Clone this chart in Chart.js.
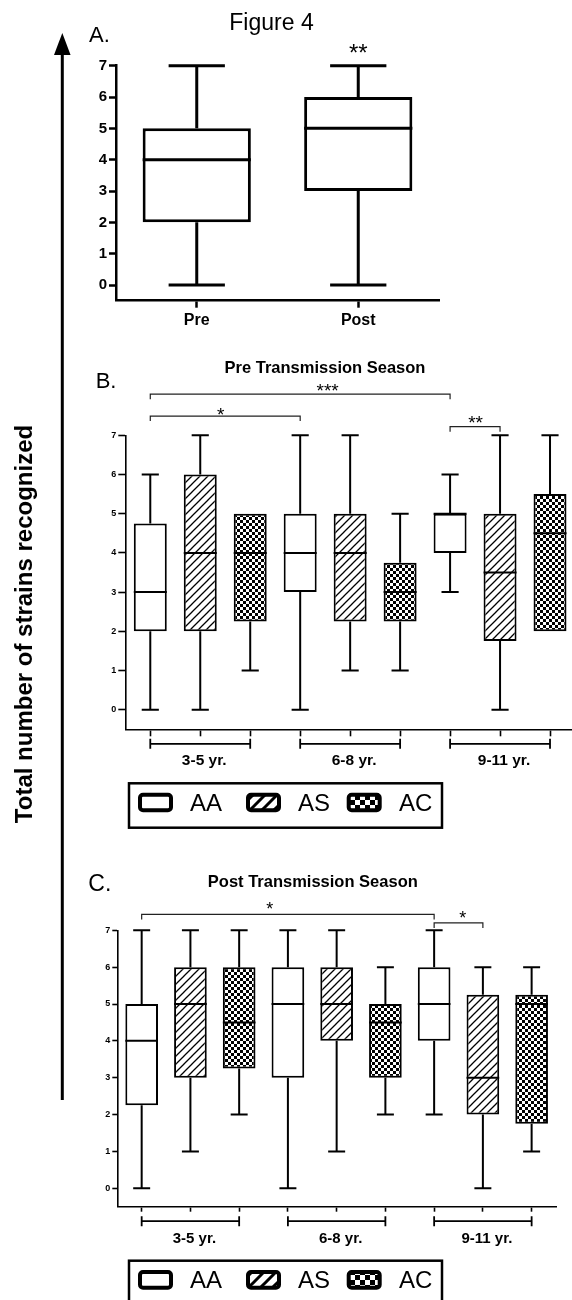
<!DOCTYPE html>
<html>
<head>
<meta charset="utf-8">
<title>Figure 4</title>
<script src="https://cdn.jsdelivr.net/npm/chart.js@4.4.0/dist/chart.umd.min.js"></script>
<style>
    html, body { margin: 0; padding: 0; background: #fff; overflow: hidden; }
    body { width: 572px; height: 1300px; position: relative; font-family: Arial, "Liberation Sans", sans-serif; color: #000; }
    canvas { position: absolute; left: 0; }
    .txt { position: absolute; white-space: nowrap; line-height: 1; }
</style>
</head>
<body>
<svg width="572" height="1300" style="position:absolute;left:0;top:0">
    <line x1="62.3" y1="50" x2="62.3" y2="1100" stroke="#000" stroke-width="3"/>
    <polygon points="54,55 70.6,55 62.3,33" fill="#000"/>
</svg>
<canvas id="chart-a" width="572" height="340" style="top:0"></canvas>
<canvas id="chart-b" width="600" height="500" style="top:340px"></canvas>
<canvas id="chart-c" width="600" height="460" style="top:840px"></canvas>

<div class="txt" style="left:171.5px;width:200px;text-align:center;top:10.5px;font-size:23px">Figure 4</div>
<div class="txt" style="left:89px;top:24.4px;font-size:22px">A.</div>
<div class="txt" style="left:95.7px;top:369.7px;font-size:22px">B.</div>
<div class="txt" style="left:125px;width:400px;text-align:center;top:358.7px;font-size:16.5px;font-weight:bold">Pre Transmission Season</div>
<div class="txt" style="left:88.3px;top:872.2px;font-size:23px">C.</div>
<div class="txt" style="left:112.8px;width:400px;text-align:center;top:872.7px;font-size:16.5px;font-weight:bold">Post Transmission Season</div>
<div class="txt" style="left:-226px;top:611.5px;width:500px;height:24px;text-align:center;font-size:24px;font-weight:bold;transform:rotate(-90deg)">Total number of strains recognized</div>

<script>
// Datos del panel A (todas las edades)
const prePostLabels = ['Pre', 'Post'];
const prePostMin = [0, 0];
const prePostQ1 = [2, 3];
const prePostMedian = [4, 5];
const prePostQ3 = [5, 6];
const prePostMax = [7, 7];
const prePostStars = [[1, '**', 7.58]];

// Grupos de edad y genotipos
const ageGroups = ['3-5 yr.', '6-8 yr.', '9-11 yr.'];
const genotypes = ['AA', 'AS', 'AC'];

// Panel B: antes de la temporada de transmision (AA, AS, AC por grupo)
const preMin = [0, 0, 1, 0, 1, 1, 3, 0, 2];
const preQ1 = [2, 2, 2.25, 3, 2.25, 2.25, 4, 1.75, 2];
const preMedian = [3, 4, 4, 4, 4, 3, 5, 3.5, 4.5];
const preQ3 = [4.75, 6, 5, 5, 5, 3.75, 5, 5, 5.5];
const preMax = [6, 7, 5, 7, 7, 5, 6, 7, 7];
// [desde, hasta, nivel, texto, posicion del texto, nivel del texto]
const preBrackets = [
    [0, 6, 8.05, '***', 3.55, 8.27],
    [0, 3, 7.49, '*', 1.41, 7.65],
    [6, 7, 7.22, '**', 6.51, 7.43]
];

// Panel C: despues de la temporada de transmision
const postMin = [0, 1, 2, 0, 1, 2, 2, 0, 1];
const postQ1 = [2.25, 3, 3.25, 3, 4, 3, 4, 2, 1.75];
const postMedian = [4, 5, 4.5, 5, 5, 4.5, 5, 3, 5];
const postQ3 = [5, 6, 6, 6, 6, 5, 6, 5.25, 5.25];
const postMax = [7, 7, 7, 7, 7, 6, 7, 6, 6];
const postBrackets = [
    [0, 6, 7.43, '*', 2.63, 7.71],
    [6, 7, 7.2, '*', 6.585, 7.46]
];

const yTicks = [0, 1, 2, 3, 4, 5, 6, 7];

const FONT = 'Arial, "Liberation Sans", sans-serif';
Chart.defaults.font.family = FONT;
Chart.defaults.color = '#000';

// Patrones de relleno
function hatchPattern(step, lw) {
    const c = document.createElement('canvas');
    c.width = step; c.height = step;
    const g = c.getContext('2d');
    g.fillStyle = '#fff';
    g.fillRect(0, 0, step, step);
    g.strokeStyle = '#000';
    g.lineWidth = lw;
    g.beginPath();
    g.moveTo(-1, step + 1); g.lineTo(step + 1, -1);
    g.moveTo(-2, 2); g.lineTo(2, -2);
    g.moveTo(step - 2, step + 2); g.lineTo(step + 2, step - 2);
    g.stroke();
    return g.createPattern(c, 'repeat');
}

function checkerPattern(cell) {
    const c = document.createElement('canvas');
    c.width = cell * 2; c.height = cell * 2;
    const g = c.getContext('2d');
    g.fillStyle = '#fff';
    g.fillRect(0, 0, cell * 2, cell * 2);
    g.fillStyle = '#000';
    g.fillRect(0, 0, cell, cell);
    g.fillRect(cell, cell, cell, cell);
    return g.createPattern(c, 'repeat');
}

const boxFills = ['#fff', hatchPattern(8, 1.3), checkerPattern(3)];
const legendFills = ['#fff', hatchPattern(12, 3), checkerPattern(5)];

// Bigotes, topes y mediana de cada caja
function boxWhiskerPlugin(mins, q1s, medians, q3s, maxes, lw) {
    return {
        id: 'boxWhisker',
        afterDatasetsDraw: function (chart) {
            const ctx = chart.ctx;
            const y = chart.scales.y;
            const bars = chart.getDatasetMeta(0).data;
            ctx.save();
            ctx.strokeStyle = '#000';
            ctx.lineWidth = lw;
            ctx.lineCap = 'butt';
            bars.forEach(function (bar, i) {
                const x = bar.x;
                const half = bar.width / 2;
                const cap = bar.width * 0.26;
                const yQ1 = y.getPixelForValue(q1s[i]);
                const yQ3 = y.getPixelForValue(q3s[i]);
                const yMin = y.getPixelForValue(mins[i]);
                const yMax = y.getPixelForValue(maxes[i]);
                const yMed = y.getPixelForValue(medians[i]);
                ctx.beginPath();
                if (maxes[i] > q3s[i]) {
                    ctx.moveTo(x, yQ3); ctx.lineTo(x, yMax);
                    ctx.moveTo(x - cap, yMax); ctx.lineTo(x + cap, yMax);
                }
                if (mins[i] < q1s[i]) {
                    ctx.moveTo(x, yQ1); ctx.lineTo(x, yMin);
                    ctx.moveTo(x - cap, yMin); ctx.lineTo(x + cap, yMin);
                }
                ctx.moveTo(x - half, yMed); ctx.lineTo(x + half, yMed);
                ctx.stroke();
            });
            ctx.restore();
        }
    };
}

// Asteriscos y corchetes de significancia
function bracketPlugin(brackets, starSize) {
    return {
        id: 'sigBrackets',
        afterDraw: function (chart) {
            const ctx = chart.ctx;
            const x = chart.scales.x;
            const y = chart.scales.y;
            ctx.save();
            ctx.strokeStyle = '#222';
            ctx.lineWidth = 1.2;
            ctx.fillStyle = '#000';
            ctx.textAlign = 'center';
            ctx.textBaseline = 'alphabetic';
            ctx.font = starSize + 'px ' + FONT;
            brackets.forEach(function (b) {
                const x0 = x.getPixelForValue(b[0]);
                const x1 = x.getPixelForValue(b[1]);
                const yy = y.getPixelForValue(b[2]);
                ctx.beginPath();
                ctx.moveTo(x0, yy + 5); ctx.lineTo(x0, yy);
                ctx.lineTo(x1, yy); ctx.lineTo(x1, yy + 5);
                ctx.stroke();
                ctx.fillText(b[3], x.getPixelForValue(b[4]), y.getPixelForValue(b[5]) + 0.58 * starSize);
            });
            ctx.restore();
        }
    };
}

function starPlugin(stars, starSize) {
    return {
        id: 'stars',
        afterDraw: function (chart) {
            const ctx = chart.ctx;
            ctx.save();
            ctx.fillStyle = '#000';
            ctx.textAlign = 'center';
            ctx.font = starSize + 'px ' + FONT;
            stars.forEach(function (s) {
                ctx.fillText(s[1], chart.scales.x.getPixelForValue(s[0]), chart.scales.y.getPixelForValue(s[2]) + 0.58 * starSize);
            });
            ctx.restore();
        }
    };
}

// Corchetes de grupos de edad bajo el eje y leyenda
function groupLegendPlugin(labelSize) {
    return {
        id: 'groupLegend',
        afterDraw: function (chart) {
            const ctx = chart.ctx;
            const x = chart.scales.x;
            const base = chart.chartArea.bottom;
            ctx.save();
            ctx.strokeStyle = '#000';
            ctx.fillStyle = '#000';
            ctx.lineWidth = 1.8;
            ctx.textAlign = 'center';
            ctx.font = 'bold ' + labelSize + 'px ' + FONT;
            ageGroups.forEach(function (g, i) {
                const x0 = x.getPixelForValue(i * 3);
                const x1 = x.getPixelForValue(i * 3 + 2);
                const yy = base + 14.5;
                ctx.beginPath();
                ctx.moveTo(x0, yy); ctx.lineTo(x1, yy);
                ctx.moveTo(x0, yy - 5); ctx.lineTo(x0, yy + 5);
                ctx.moveTo(x1, yy - 5); ctx.lineTo(x1, yy + 5);
                ctx.stroke();
                ctx.fillText(g, x.getPixelForValue(i * 3 + 1) + 4, base + 36);
            });

            // leyenda
            const top = base + 54;
            ctx.lineWidth = 2.5;
            ctx.strokeRect(129, top, 313, 44.4);
            const swatchX = [138, 246, 346.7];
            const textX = [190, 298, 399];
            ctx.textAlign = 'left';
            ctx.font = '24px ' + FONT;
            genotypes.forEach(function (name, i) {
                ctx.beginPath();
                ctx.roundRect(swatchX[i] + 2, top + 11.4, 31, 15.6, 3);
                ctx.fillStyle = legendFills[i];
                ctx.fill();
                ctx.lineWidth = 4;
                ctx.strokeStyle = '#000';
                ctx.stroke();
                ctx.fillStyle = '#000';
                ctx.fillText(name, textX[i], top + 27.5);
            });
            ctx.restore();
        }
    };
}

function axisOptions(tickFont, tickLen, lw, yWidth, xHeight, showX, xFont) {
    return {
        x: {
            offset: true,
            grid: { display: true, drawOnChartArea: false, drawTicks: true, tickLength: tickLen, tickWidth: lw, tickColor: '#000', offset: false },
            border: { display: true, color: '#000', width: lw },
            ticks: { display: showX, color: '#000', font: { size: xFont, weight: 'bold' }, padding: 3, maxRotation: 0 },
            afterFit: function (s) { s.height = xHeight; }
        },
        y: {
            min: -0.5,
            max: 7,
            afterBuildTicks: function (s) {
                s.ticks = yTicks.map(function (v) { return { value: v }; });
            },
            grid: { display: true, drawOnChartArea: false, drawTicks: true, tickLength: tickLen, tickWidth: lw, tickColor: '#000' },
            border: { display: true, color: '#000', width: lw },
            ticks: { color: '#000', font: { size: tickFont, weight: 'bold' }, padding: 2 },
            afterFit: function (s) { s.width = yWidth; }
        }
    };
}

function boxLabels() {
    const out = [];
    ageGroups.forEach(function (g) {
        genotypes.forEach(function (t) { out.push(t + ' ' + g); });
    });
    return out;
}

// Panel A
new Chart(document.getElementById('chart-a'), {
    type: 'bar',
    data: {
        labels: prePostLabels,
        datasets: [{
            data: prePostQ1.map(function (q, i) { return [q, prePostQ3[i]]; }),
            backgroundColor: '#fff',
            borderColor: '#000',
            borderWidth: 3,
            borderSkipped: false,
            barPercentage: 0.67,
            categoryPercentage: 1
        }]
    },
    options: {
        responsive: false,
        animation: false,
        layout: { autoPadding: false, padding: { left: 76, right: 133, top: 65.7, bottom: 9.3 } },
        scales: axisOptions(15, 7, 2.5, 40, 30, true, 16),
        plugins: { legend: { display: false }, tooltip: { enabled: false } }
    },
    plugins: [boxWhiskerPlugin(prePostMin, prePostQ1, prePostMedian, prePostQ3, prePostMax, 3), starPlugin(prePostStars, 24)]
});

// Panel B
new Chart(document.getElementById('chart-b'), {
    type: 'bar',
    data: {
        labels: boxLabels(),
        datasets: [{
            data: preQ1.map(function (q, i) { return [q, preQ3[i]]; }),
            backgroundColor: preQ1.map(function (q, i) { return boxFills[i % 3]; }),
            borderColor: '#000',
            borderWidth: 2,
            borderSkipped: false,
            barPercentage: 0.66,
            categoryPercentage: 1
        }]
    },
    options: {
        responsive: false,
        animation: false,
        layout: { autoPadding: false, padding: { left: 95.3, right: 25, top: 95.3, bottom: 100.7 } },
        scales: axisOptions(9, 7, 1.6, 30, 10, false, 9),
        plugins: { legend: { display: false }, tooltip: { enabled: false } }
    },
    plugins: [boxWhiskerPlugin(preMin, preQ1, preMedian, preQ3, preMax, 2), bracketPlugin(preBrackets, 19), groupLegendPlugin(15.5)]
});

// Panel C
new Chart(document.getElementById('chart-c'), {
    type: 'bar',
    data: {
        labels: boxLabels(),
        datasets: [{
            data: postQ1.map(function (q, i) { return [q, postQ3[i]]; }),
            backgroundColor: postQ1.map(function (q, i) { return boxFills[i % 3]; }),
            borderColor: '#000',
            borderWidth: 2,
            borderSkipped: false,
            barPercentage: 0.67,
            categoryPercentage: 1
        }]
    },
    options: {
        responsive: false,
        animation: false,
        layout: { autoPadding: false, padding: { left: 87.3, right: 44, top: 90.3, bottom: 83.3 } },
        scales: axisOptions(9, 5, 1.6, 30, 10, false, 9),
        plugins: { legend: { display: false }, tooltip: { enabled: false } }
    },
    plugins: [boxWhiskerPlugin(postMin, postQ1, postMedian, postQ3, postMax, 2), bracketPlugin(postBrackets, 18), groupLegendPlugin(15)]
});
</script>
</body>
</html>
